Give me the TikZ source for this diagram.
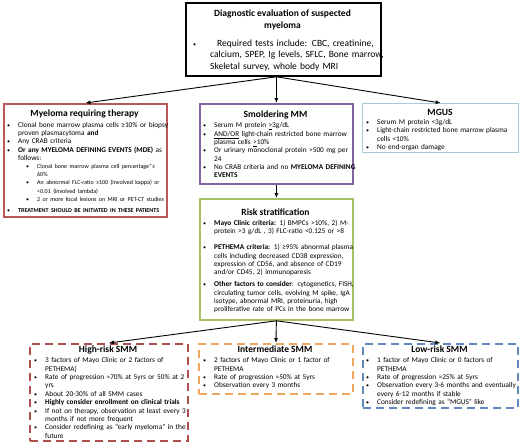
\documentclass[tikz,border=0pt]{standalone}
\usepackage{fontspec}
\setmainfont{Carlito}
\usetikzlibrary{arrows.meta}
\definecolor{thercol}{RGB}{185,88,86}
\definecolor{smmcol}{RGB}{128,100,162}
\definecolor{mguscol}{RGB}{168,202,212}
\definecolor{riskcol}{RGB}{165,195,100}
\definecolor{highcol}{RGB}{172,78,76}
\definecolor{intcol}{RGB}{235,168,92}
\definecolor{lowcol}{RGB}{98,136,190}
\newcommand\bulletglyph{{\fontsize{6}{6}\selectfont\textbullet}}
\newcommand\blx[2]{\par\hangindent=#2\hangafter=1\noindent\hbox to #1{\rule{0pt}{0.8em}\bulletglyph\hss}}
\newcommand\bl{\blx{11pt}{11pt}}
\newcommand\sbl{\par\hangindent=30pt\hangafter=1\noindent\hbox to 30pt{\hskip19pt\bulletglyph\hss}}
\begin{document}
\begin{tikzpicture}[x=1pt,y=-1pt,
  box/.style={draw=#1, line width=1.8pt, anchor=north west, inner sep=0pt},
  dbox/.style={draw=#1, line width=1.9pt, dash pattern=on 8pt off 5pt, anchor=north west, inner sep=0pt},
  ttl/.style={anchor=base, inner sep=0pt, font=\fontsize{9.5}{12.5}\selectfont\bfseries, align=center},
  body/.style={anchor=base west, inner sep=0pt, text width=200pt, align=left, font=\fontsize{7.3}{8.3}\selectfont},
  arr/.style={-{Latex[length=5pt,width=4pt]}, line width=0.9pt},
]
\useasboundingbox (0,0) rectangle (520,447);
% boxes
\node[box=black, minimum width=195pt, minimum height=73pt] (top) at (185,2) {};
\node[box=thercol, minimum width=163pt, minimum height=113pt] (ther) at (3,103) {};
\node[box=smmcol, minimum width=153pt, minimum height=80pt] (smm) at (199,103) {};
\node[box=mguscol, line width=1.4pt, minimum width=156pt, minimum height=49pt] (mgus) at (362,103) {};
\node[box=riskcol, minimum width=153pt, minimum height=121pt] (risk) at (199,198) {};
\node[dbox=highcol, minimum width=158pt, minimum height=97pt] (high) at (29,343) {};
\node[dbox=intcol, minimum width=154pt, minimum height=50pt] (inter) at (198,343) {};
\node[dbox=lowcol, minimum width=155pt, minimum height=64pt] (low) at (362,343) {};
% titles
\node[ttl] (topt) at (282.5,28.5) {Diagnostic evaluation of suspected\\myeloma};
\node[ttl] (thert) at (84.5,116.5) {Myeloma requiring therapy};
\node[ttl] (smmt) at (275.5,117) {Smoldering MM};
\node[ttl] (mgust) at (440,115) {MGUS};
\node[ttl] (riskt) at (275.5,215) {Risk stratification};
\node[ttl] (hight) at (108,352.5) {High-risk SMM};
\node[ttl] (intert) at (275,352.5) {Intermediate SMM};
\node[ttl] (lowt) at (439.5,352.5) {Low-risk SMM};
% bodies
\node[body, font=\fontsize{9.5}{11.5}\selectfont] (topb) at (193,34.5) {\blx{24pt}{17pt}Required tests include: CBC, creatinine,\newline calcium, SPEP, Ig levels, SFLC, Bone marrow,\newline Skeletal survey, whole body MRI\par};
\node[body] (therb) at (7,119) {\bl Clonal bone marrow plasma cells ≥10\% or biopsy\newline proven plasmacytoma \textbf{and}
\bl Any CRAB criteria
\bl \textbf{Or any MYELOMA DEFINING EVENTS (MDE)} as\newline follows:
{\fontsize{6}{8.2}\selectfont
\sbl Clonal bone marrow plasma cell percentage*≥\newline 60\%
\sbl An abnormal FLC-ratio ≥100 (involved kappa) or\newline <0.01 (involved lambda)
\sbl 2 or more focal lesions on MRI or PET-CT studies\par}
\vspace{3pt}
\bl {\fontsize{6}{8}\selectfont\textbf{TREATMENT SHOULD BE INITIATED IN THESE PATIENTS}}\par};
\node[body] (smmb) at (203,119.5) {\bl Serum M protein \underline{>}3g/dL
\bl \underline{AND/OR} light-chain restricted bone marrow\newline plasma cells \underline{>}10\%
\bl Or urinary monoclonal protein >500 mg per\newline 24
\bl No CRAB criteria and no \textbf{MYELOMA DEFINING}\newline \textbf{EVENTS}\par};
\node[body] (mgusb) at (366,116.3) {\bl Serum M protein <3g/dL
\bl Light-chain restricted bone marrow plasma\newline cells <10\%
\bl No end-organ damage\par};
\node[body] (riskb) at (203,216.8) {\bl \textbf{Mayo Clinic criteria:} 1) BMPCs >10\%, 2) M-\newline protein >3 g/dL , 3) FLC-ratio <0.125 or >8\par\vspace{8pt}
\bl \textbf{PETHEMA criteria:} 1) ≥95\% abnormal plasma\newline cells including decreased CD38 expression,\newline expression of CD56, and absence of CD19\newline and/or CD45, 2) immunoparesis\par\vspace{4pt}
\bl \textbf{Other factors to consider}: cytogenetics, FISH,\newline circulating tumor cells, evolving M spike, IgA\newline isotype, abnormal MRI, proteinuria, high\newline proliferative rate of PCs in the bone marrow\par};
\node[body, font=\fontsize{7.3}{8.4}\selectfont] (highb) at (34,354.3) {\bl 3 factors of Mayo Clinic or 2 factors of\newline PETHEMA)
\bl Rate of progression ≈70\% at 5yrs or 50\% at 2\newline yrs
\bl About 20-30\% of all SMM cases
\bl \textbf{Highly consider enrollment on clinical trials}
\bl If not on therapy, observation at least every 3\newline months if not more frequent
\bl Consider redefining as “early myeloma” in the\newline future\par};
\node[body, font=\fontsize{7.3}{8.4}\selectfont] (interb) at (203,354.3) {\bl 2 factors of Mayo Clinic or 1 factor of\newline PETHEMA
\bl Rate of progression ≈50\% at 5yrs
\bl Observation every 3 months\par};
\node[body, font=\fontsize{7.3}{8.4}\selectfont] (lowb) at (366,354.3) {\bl 1 factor of Mayo Clinic or 0 factors of\newline PETHEMA
\bl Rate of progression ≈25\% at 5yrs
\bl Observation every 3-6 months and eventually\newline every 6-12 months if stable
\bl Consider redefining as “MGUS” like\par};
% connectors
\coordinate (tb) at (top.south -| smm.north);
\draw[arr] (tb) -- (ther.north);
\draw[arr] (tb) -- (smm.north);
\draw[arr] (tb) -- (mgus.north);
\draw[arr] (smm.south) -- (risk.north);
\coordinate (rb) at (risk.south);
\draw[arr] (rb) -- (high.north);
\draw[arr] (rb) -- (inter.north);
\draw[arr] (rb) -- (low.north);
\end{tikzpicture}
\end{document}
